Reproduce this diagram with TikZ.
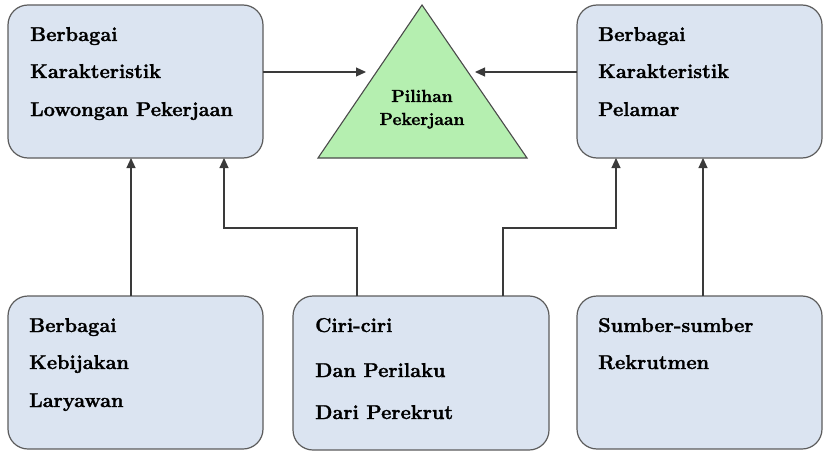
\documentclass[tikz,border=0pt]{standalone}
\usepackage{fontspec}
\newfontfamily\heavy{Latin Modern Roman}[FakeBold=1.4]
\usetikzlibrary{arrows.meta}
\definecolor{boxfill}{HTML}{DBE4F1}
\definecolor{boxline}{HTML}{5C5C5C}
\definecolor{trifill}{HTML}{B5EFB0}
\definecolor{trline}{HTML}{4A4A4A}
\definecolor{conn}{HTML}{3A3A3A}
\begin{document}
\begin{tikzpicture}[x=1pt,y=-1pt,
  box/.style={draw=boxline, line width=1.2pt, fill=boxfill, rounded corners=20pt, minimum width=255pt, minimum height=153pt, inner sep=0pt, outer sep=0pt},
  lbl/.style={anchor=base west, inner sep=0pt, font=\heavy\fontsize{20}{24}\selectfont\bfseries, text=black},
  tlbl/.style={anchor=base, inner sep=0pt, font=\heavy\fontsize{17.5}{21}\selectfont\bfseries, text=black},
  arr/.style={draw=conn, line width=1.1pt, -{Triangle[length=10pt,width=9pt]}}]
\useasboundingbox (0,0) rectangle (827,452);
% boxes
\node[box] (tl) at (135.5,81.5) {};
\node[box, minimum width=245pt] (tr) at (699.5,81.5) {};
\node[box] (bl) at (135.5,372.5) {};
\node[box, minimum width=256pt, minimum height=154pt] (bm) at (421,373) {};
\node[box, minimum width=245pt] (br) at (699.5,372.5) {};
% triangle
\coordinate (apex) at (422,5);
\coordinate (bleft) at (318,158);
\coordinate (bright) at (527,158);
\draw[draw=trline, line width=1.1pt, fill=trifill, line join=miter] (apex) -- (bleft) -- (bright) -- cycle;
% texts
\node[lbl] (t1) at (30,41) {Berbagai};
\node[lbl] (t2) at (30,78) {Karakteristik};
\node[lbl] (t3) at (30,116) {Lowongan Pekerjaan};
\node[lbl] (r1) at (598,41) {Berbagai};
\node[lbl] (r2) at (598,78) {Karakteristik};
\node[lbl] (r3) at (598,116) {Pelamar};
\node[lbl] (b1) at (29,332) {Berbagai};
\node[lbl] (b2) at (29,369) {Kebijakan};
\node[lbl] (b3) at (29,407) {Laryawan};
\node[lbl] (m1) at (315,332) {Ciri-ciri};
\node[lbl] (m2) at (315,377) {Dan Perilaku};
\node[lbl] (m3) at (315,419) {Dari Perekrut};
\node[lbl] (s1) at (598,332) {Sumber-sumber};
\node[lbl] (s2) at (598,369) {Rekrutmen};
\node[tlbl] (p1) at (422,102) {Pilihan};
\node[tlbl] (p2) at (422,125) {Pekerjaan};
% connectors
\coordinate (ltip) at (366,72);
\coordinate (rtip) at (475,72);
\draw[arr] (tl.east |- ltip) -- (ltip);
\draw[arr] (tr.west |- rtip) -- (rtip);
\draw[arr] ([xshift=-4.5pt]bl.north) -- ([xshift=-4.5pt]tl.south);
\coordinate (j1) at (224,228);
\coordinate (j2) at (616,228);
\draw[arr] ([xshift=-64pt]bm.north) |- (j1) -- (j1 |- tl.south);
\draw[arr] ([xshift=82pt]bm.north) |- (j2) -- (j2 |- tr.south);
\draw[arr] ([xshift=3.5pt]br.north) -- ([xshift=3.5pt]tr.south);
\end{tikzpicture}
\end{document}
